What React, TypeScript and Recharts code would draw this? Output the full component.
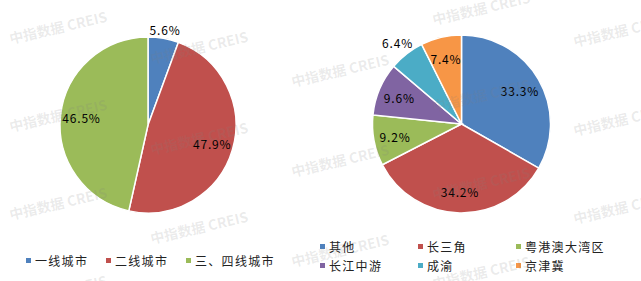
import { Cell, Pie, PieChart } from "recharts";

const cityTiers = ["一线城市", "二线城市", "三、四线城市"];
const cityTierShare = [5.6, 47.9, 46.5];
const cityTierColors = ["#4F81BD", "#C0504D", "#9BBB59"];

const regions = ["其他", "长三角", "粤港澳大湾区", "长江中游", "成渝", "京津冀"];
const regionShare = [33.3, 34.2, 9.2, 9.6, 6.4, 7.4];
const regionColors = ["#4F81BD", "#C0504D", "#9BBB59", "#8064A2", "#4BACC6", "#F79646"];

const tierData = cityTiers.map((name, i) => ({ name, value: cityTierShare[i] }));
const regionData = regions.map((name, i) => ({ name, value: regionShare[i] }));

const FONT = "'Noto Sans CJK SC', 'Noto Sans', sans-serif";
const RAD = Math.PI / 180;

// watermark centres, tiled like the original image
const watermarks = [
    [58, 27], [58, 115], [58, 203], [58, 291],
    [199, 47], [199, 138], [199, 227],
    [340, 70], [340, 160], [340, 250],
    [481, 8], [481, 95], [481, 183], [481, 272],
    [622, 30], [622, 119], [622, 207],
];

const renderLabel = (props: any) => {
    const { cx, cy, midAngle, outerRadius, value } = props;
    const dx = Math.cos(-midAngle * RAD);
    const dy = Math.sin(-midAngle * RAD);
    let r = outerRadius * 0.76;
    if (value < 7) {
        // small slices get their label just outside the pie
        r = outerRadius + 2 + Math.abs(dx) * 14 + Math.abs(dy) * 5;
    }
    return (
        <text
            x={cx + r * dx}
            y={cy + r * dy}
            textAnchor="middle"
            dominantBaseline="central"
            fontFamily={FONT}
            fontSize={12}
            letterSpacing={0.8}
            fill="#000"
        >
            {value.toFixed(1)}%
        </text>
    );
};

function LegendItem({ label, color, x, y }: { label: string; color: string; x: number; y: number }) {
    return (
        <div style={{ position: "absolute", left: x, top: y - 8, height: 16, display: "flex", alignItems: "center" }}>
            <div style={{ width: 5, height: 5, background: color, marginRight: 4 }} />
            <span style={{ fontFamily: FONT, fontSize: 12, letterSpacing: 1.3, color: "#222", whiteSpace: "nowrap" }}>
                {label}
            </span>
        </div>
    );
}

const leftLegendX = [26, 106, 186];
const rightLegendX = [320, 418, 516];

export default function App() {
    return (
        <div style={{ position: "absolute", left: 0, top: 0, width: 641, height: 281, background: "#fff", overflow: "hidden" }}>
            <PieChart width={641} height={281} margin={{ top: 0, right: 0, bottom: 0, left: 0 }}>
                <Pie
                    data={tierData}
                    dataKey="value"
                    cx={148}
                    cy={125}
                    outerRadius={88}
                    startAngle={90}
                    endAngle={-270}
                    stroke="#fff"
                    strokeWidth={1.5}
                    label={renderLabel}
                    labelLine={false}
                    isAnimationActive={false}
                >
                    {tierData.map((d, i) => (
                        <Cell key={d.name} fill={cityTierColors[i]} />
                    ))}
                </Pie>
                <Pie
                    data={regionData}
                    dataKey="value"
                    cx={461.5}
                    cy={124}
                    outerRadius={89}
                    startAngle={90}
                    endAngle={-270}
                    stroke="#fff"
                    strokeWidth={1.5}
                    label={renderLabel}
                    labelLine={false}
                    isAnimationActive={false}
                >
                    {regionData.map((d, i) => (
                        <Cell key={d.name} fill={regionColors[i]} />
                    ))}
                </Pie>
            </PieChart>

            {cityTiers.map((name, i) => (
                <LegendItem key={name} label={name} color={cityTierColors[i]} x={leftLegendX[i]} y={260} />
            ))}
            {regions.map((name, i) => (
                <LegendItem
                    key={name}
                    label={name}
                    color={regionColors[i]}
                    x={rightLegendX[i % 3]}
                    y={i < 3 ? 246 : 265}
                />
            ))}

            <svg width={641} height={281} style={{ position: "absolute", left: 0, top: 0, pointerEvents: "none" }}>
                {watermarks.map(([x, y], i) => (
                    <text
                        key={i}
                        x={x}
                        y={y}
                        textAnchor="middle"
                        dominantBaseline="central"
                        transform={`rotate(-13 ${x} ${y})`}
                        fontFamily={FONT}
                        fontWeight="bold"
                        fontSize={14}
                        fill="#808080"
                        fillOpacity={0.16}
                    >
                        中指数据 CREIS
                    </text>
                ))}
            </svg>
        </div>
    );
}
